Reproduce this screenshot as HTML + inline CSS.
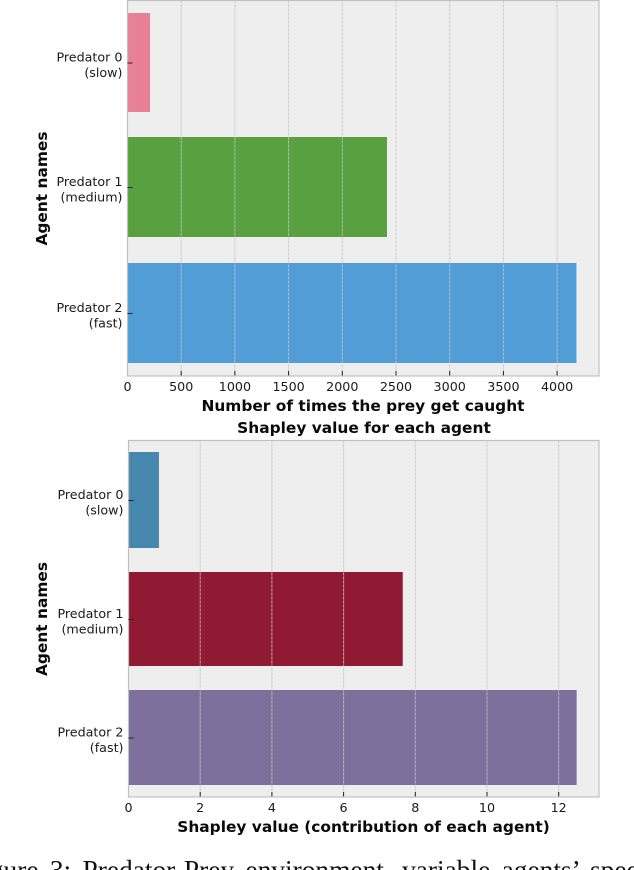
<!DOCTYPE html>
<html>
<head>
<meta charset="utf-8">
<style>
html,body{margin:0;padding:0;background:#fff;width:634px;height:870px;overflow:hidden}
svg{display:block}
text{font-family:"DejaVu Sans","Liberation Sans",sans-serif;fill:#1a1a1a}
.title{font-weight:bold;font-size:15.4px;fill:#0a0a0a}
.tick{font-size:12.7px}
.cap{font-family:"Liberation Serif",serif;font-size:27.4px;word-spacing:4.5px;fill:#111}
</style>
</head>
<body>
<svg id="figure" width="634" height="870" viewBox="0 0 634 870" xmlns="http://www.w3.org/2000/svg">
<text class="cap" x="-33" y="879">Figure 3: Predator-Prey environment, variable agents’ speed</text>
</svg>
<script>
const agentLines = [["Predator 0", "(slow)"], ["Predator 1", "(medium)"], ["Predator 2", "(fast)"]];
const catchCounts = [210, 2416, 4180];
const catchTicks = [0, 500, 1000, 1500, 2000, 2500, 3000, 3500, 4000];
const catchColors = ["#e88095", "#58a040", "#519ed6"];
const shapleyValues = [0.85, 7.65, 12.5];
const shapleyTicks = [0, 2, 4, 6, 8, 10, 12];
const shapleyColors = ["#4787ad", "#901a33", "#7e6f9d"];

const svg = document.getElementById('figure');
const NS = 'http://www.w3.org/2000/svg';
function make(tag, attrs, txt) {
  const el = document.createElementNS(NS, tag);
  for (const k in attrs) el.setAttribute(k, attrs[k]);
  if (txt !== undefined) el.textContent = txt;
  svg.appendChild(el);
  return el;
}
function drawChart(c) {
  const x = v => c.left + v * c.scale;
  const bg = make('rect', {x: c.left, y: c.top, width: c.right - c.left, height: c.bottom - c.top, fill: '#eeeeee'});
  
  

  c.values.forEach((v, i) => {
    const bar = make('rect', {x: x(0), y: c.barTops[i], width: x(v) - x(0), height: c.barHeights[i], fill: c.colors[i]});
    
    
  });

  c.ticks.forEach(t => {
    if (t !== 0) {
      const grid = make('line', {x1: x(t), x2: x(t), y1: c.top, y2: c.bottom, stroke: '#c6c6c6', 'stroke-width': 1, 'stroke-dasharray': '3 1', 'stroke-opacity': 0.85});
      
      
    }
    const tick = make('line', {x1: x(t), x2: x(t), y1: c.bottom - 5, y2: c.bottom, stroke: '#222', 'stroke-width': 1});
    
    
    const label = make('text', {x: x(t), y: c.bottom + 15, 'text-anchor': 'middle', class: 'tick'}, t);
    
    
  });

  const frame = make('rect', {x: c.left, y: c.top, width: c.right - c.left, height: c.bottom - c.top, fill: 'none', stroke: '#c0c0c0', 'stroke-width': 1.2});
  
  

  agentLines.forEach((lines, i) => {
    const my = c.barTops[i] + c.barHeights[i] / 2;
    const tk = make('line', {x1: c.left, x2: c.left + 5, y1: my + 0.5, y2: my + 0.5, stroke: '#222', 'stroke-width': 1});
    
    
    lines.forEach((s, j) => {
      const lab = make('text', {x: c.left - 5, y: my - 1 + j * 15.3, 'text-anchor': 'end', class: 'tick'}, s);
      
      
    });
  });

  const yt = make('text', {x: 0, y: 0, class: 'title', 'text-anchor': 'middle', transform: 'translate(' + c.yTitleX + ' ' + c.yTitleY + ') rotate(-90)'}, 'Agent names');
  
  

  const xt = make('text', {x: c.xTitleX, y: c.xTitleY, class: 'title', 'text-anchor': 'middle'}, c.xTitle);
  
  
}

drawChart({
  id: 'catch-chart', left: 127.5, right: 599, top: 0.5, bottom: 376, scale: 0.1074,
  values: catchCounts, ticks: catchTicks, colors: catchColors,
  barTops: [13, 137, 263], barHeights: [99, 100, 100],
  yTitleX: 47, yTitleY: 188.5, xTitleX: 363, xTitleY: 411,
  xTitle: 'Number of times the prey get caught'
});
drawChart({
  id: 'shapley-chart', left: 128.5, right: 599, top: 440.5, bottom: 797, scale: 35.85,
  values: shapleyValues, ticks: shapleyTicks, colors: shapleyColors,
  barTops: [452, 572, 690], barHeights: [96, 94, 95],
  yTitleX: 47, yTitleY: 619, xTitleX: 363.5, xTitleY: 832,
  xTitle: 'Shapley value (contribution of each agent)'
});

const chartTitle = make('text', {x: 364, y: 433, class: 'title', 'text-anchor': 'middle'}, 'Shapley value for each agent');


</script>
</body>
</html>
